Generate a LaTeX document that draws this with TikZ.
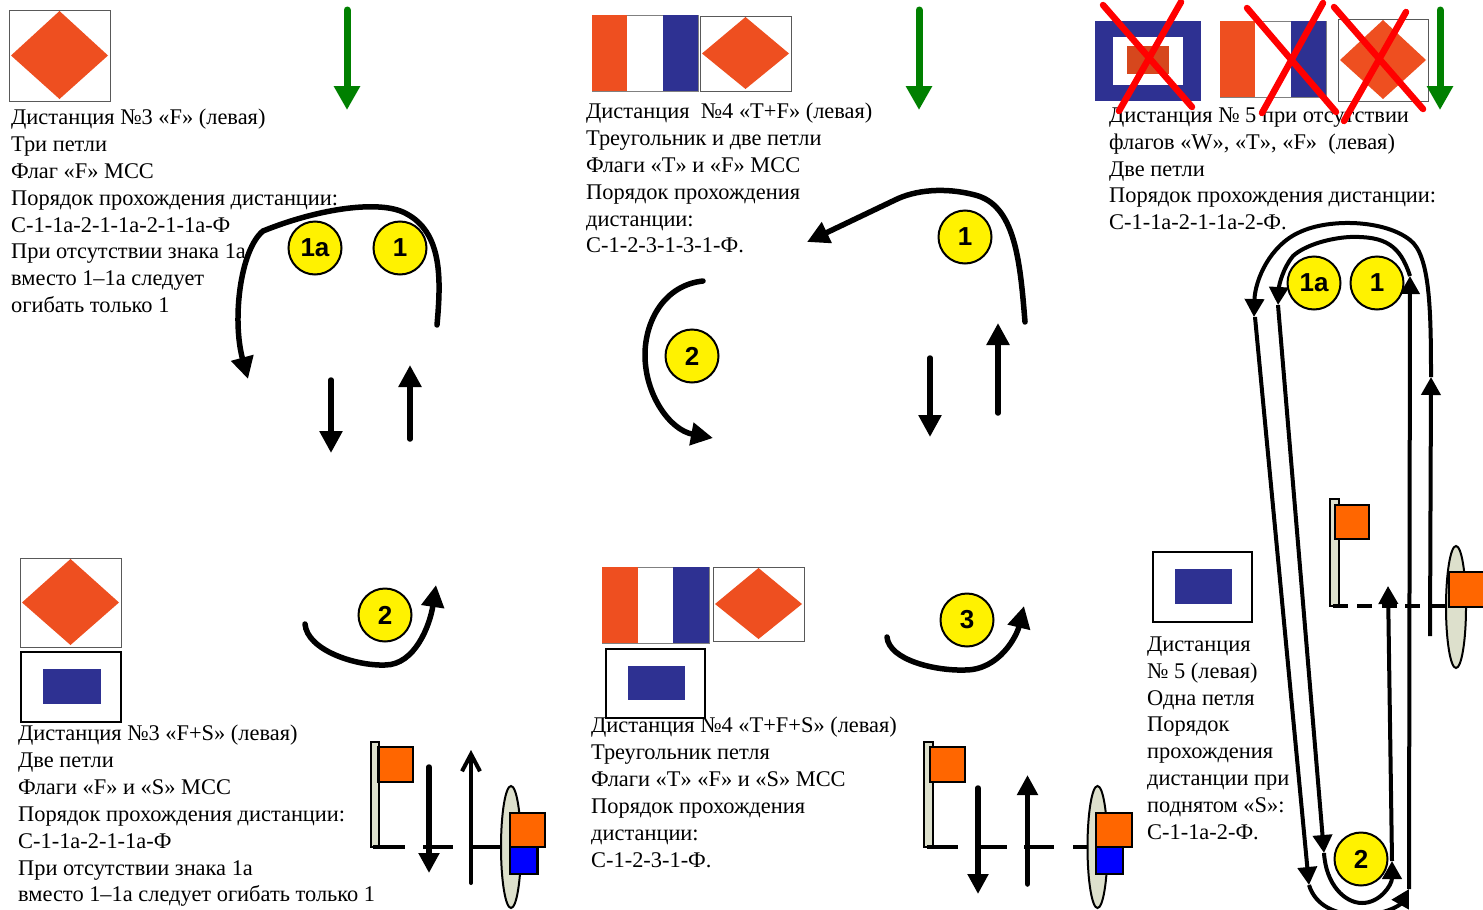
\documentclass[tikz,border=0pt]{standalone}
\usepackage{fontspec}
\setmainfont{Liberation Serif}
\setsansfont{Liberation Sans}
\usetikzlibrary{arrows.meta}
\definecolor{flagred}{HTML}{EE4F20}
\definecolor{flagblue}{HTML}{2E3192}
\definecolor{flagorange}{HTML}{FF6600}
\definecolor{polegrey}{HTML}{DDE0CC}
\definecolor{arrowgreen}{HTML}{008000}
\tikzset{
  info/.style={anchor=north west, inner sep=0pt, align=left, font=\fontsize{22.4}{26.85}\selectfont},
  buoy/.style={circle, draw, line width=2pt, fill=yellow, minimum size=53pt, inner sep=0pt, font=\fontsize{26}{26}\selectfont\sffamily\bfseries},
  windarrow/.style={arrowgreen, line width=7pt, line cap=round, -{Triangle[length=24pt,width=25pt]}},
  course/.style={line width=5.5pt, line cap=round, -{Triangle[length=22pt,width=22pt]}},
  longcourse/.style={line width=4pt, -{Triangle[length=18pt,width=19pt]}},
  rope/.style={line width=3.5pt},
  cross/.style={red, line width=6.5pt, line cap=round},
  flagbox/.style={draw=black!65, line width=1pt, fill=white},
  signbox/.style={draw=black, line width=1.5pt, fill=white},
  markerbox/.style={draw=black, line width=2.5pt},
  pole/.style={draw=black, line width=2pt, fill=polegrey},
}
% flags: left, top, right, bottom
\newcommand{\flagF}[4]{
  \draw[flagbox] (#1,#2) rectangle (#3,#4);
  \fill[flagred] ({#1+2},{(#2+#4)/2}) -- ({(#1+#3)/2},{#2+1}) -- ({#3-2},{(#2+#4)/2}) -- ({(#1+#3)/2},{#4-2}) -- cycle;
}
\newcommand{\flagT}[4]{
  \draw[draw=black!50, line width=1pt, fill=white] (#1,#2) rectangle (#3,#4);
  \fill[flagblue] ({#1+2*(#3-#1)/3},#2) rectangle (#3,#4);
  \fill[flagred] (#1,#2) rectangle ({#1+(#3-#1)/3},#4);
}
\newcommand{\flagS}[4]{
  \draw[signbox] (#1,#2) rectangle (#3,#4);
  \fill[flagblue] ({#1+22},{#2+17}) rectangle ({#3-20},{#4-18});
}
\begin{document}
\begin{tikzpicture}[x=1pt, y=-1pt]
  \clip (0,0) rectangle (1483,910);
  % texts go under the drawing
  \node [info] (textA) at (11,109) {Дистанция №3 «F» (левая)\\Три петли\\Флаг «F» МСС\\Порядок прохождения дистанции:\\С-1-1а-2-1-1а-2-1-1а-Ф\\При отсутствии знака 1а\\вместо 1–1а следует\\огибать только 1};
  \node [info] (textB) at (586,103) {Дистанция\ \ №4 «T+F» (левая)\\Треугольник и две петли\\Флаги «T» и «F» МСС\\Порядок прохождения\\дистанции:\\С-1-2-3-1-3-1-Ф.};
  \node [info] (textC) at (1109,107.5) {Дистанция № 5 при отсутствии\\флагов «W», «T», «F»\ \ (левая)\\Две петли\\Порядок прохождения дистанции:\\С-1-1а-2-1-1а-2-Ф.};
  \node [info] (textD) at (18,725) {Дистанция №3 «F+S» (левая)\\Две петли\\Флаги «F» и «S» МСС\\Порядок прохождения дистанции:\\С-1-1а-2-1-1а-Ф\\При отсутствии знака 1а\\вместо 1–1а следует огибать только 1};
  \node [info] (textE) at (591,717) {Дистанция №4 «T+F+S» (левая)\\Треугольник петля\\Флаги «T» «F» и «S» МСС\\Порядок прохождения\\дистанции:\\С-1-2-3-1-Ф.};
  \node [info] (textF) at (1147,636.5) {Дистанция\\№ 5 (левая)\\Одна петля\\Порядок\\прохождения\\дистанции при\\поднятом «S»:\\С-1-1а-2-Ф.};

  % flags
  \flagF{9}{10}{110}{101}
  \flagT{592}{15}{698}{91}
  \flagF{700}{16}{791}{91}
  \fill[flagblue] (1095,21) rectangle (1201,101);
  \fill[white] (1113,37) rectangle (1183,85);
  \fill[flagred!90!black] (1127,46) rectangle (1169,74);
  \flagT{1220}{21}{1326}{97}
  \flagF{1338}{19}{1428}{101}
  \flagF{20}{558}{121}{647}
  \flagS{21}{652}{121}{722}
  \flagT{602}{567}{709}{643}
  \flagF{713}{567}{804}{641}
  \flagS{606}{649}{705}{718}
  \flagS{1153}{552}{1252}{622}

  % crossed out flags
  \draw[cross] (1103,5) -- (1192,107);
  \draw[cross] (1181,2) -- (1119,111);
  \draw[cross] (1247,8) -- (1336,112);
  \draw[cross] (1323,3) -- (1262,113);
  \draw[cross] (1334,7) -- (1423,109);
  \draw[cross] (1406,12) -- (1344,121);

  % wind
  \draw[windarrow] (347,10) -- (347,110);
  \draw[windarrow] (919,10) -- (919,110);
  \draw[windarrow] (1440,10) -- (1440,110);

  % distance 3 F
  \node [buoy] (oneAa) at (315,248) {1a};
  \node [buoy] (oneAb) at (400,248) {1};
  \draw[course] (437,325) .. controls (441,280) and (443,232) .. (405,213) .. controls (380,200) and (320,208) .. (263,231) .. controls (240,250) and (232,320) .. (248,379);
  \draw[course] (331,380) -- (331,453);
  \draw[course] (410,439) -- (410,365);

  % distance 4 T+F
  \node [buoy] (oneB) at (965,237) {1};
  \node [buoy] (twoB) at (692,356) {2};
  \draw[course] (1025,322) .. controls (1020,260) and (1015,205) .. (975,195) .. controls (945,187) and (915,190) .. (895,200) -- (807,242);
  \draw[course] (703,281) .. controls (665,285) and (645,320) .. (645,355) .. controls (645,395) and (670,430) .. (713,438);
  \draw[course] (930,358) -- (930,437);
  \draw[course] (998,413) -- (998,323);

  % distance 3 F+S
  \node [buoy] (twoD) at (385,615) {2};
  \draw[course] (305,624) .. controls (307,650) and (355,666) .. (385,665) .. controls (415,665) and (430,625) .. (436,585);
  \draw[pole] (371,742) rectangle (379,847);
  \draw[markerbox, fill=flagorange] (378.5,747) rectangle (413,782);
  \draw[rope] (373,847) -- (405,847);
  \draw[rope] (423,847) -- (453,847);
  \draw[rope] (471,847) -- (500,847);
  \draw[course, -{Triangle[length=20pt,width=20pt]}] (429,767) -- (429,873);
  \draw[line width=4pt, line cap=round, -{Straight Barb[length=17pt,width=18pt]}] (471,883) -- (471,750);
  \draw[pole] (511,847) ellipse [x radius=10, y radius=61];
  \draw[markerbox, fill=blue] (510,847) rectangle (537.5,874);
  \draw[markerbox, fill=flagorange] (510,813) rectangle (545,847);

  % distance 4 T+F+S
  \node [buoy] (threeE) at (967,620) {3};
  \draw[course] (887,637) .. controls (889,660) and (935,671) .. (965,670) .. controls (1000,670) and (1017,635) .. (1024,606);
  \draw[pole] (924,742) rectangle (933,847);
  \draw[markerbox, fill=flagorange] (930,747) rectangle (965,782);
  \draw[rope] (927,847) -- (958,847);
  \draw[rope] (980,847) -- (1007,847);
  \draw[rope] (1024,847) -- (1054,847);
  \draw[rope] (1073,847) -- (1088,847);
  \draw[course, -{Triangle[length=20pt,width=20pt]}] (978,788) -- (978,894);
  \draw[course, -{Triangle[length=20pt,width=20pt]}] (1027.5,884) -- (1027.5,775);
  \draw[pole] (1097.5,847) ellipse [x radius=10, y radius=61];
  \draw[markerbox, fill=blue] (1096,847) rectangle (1123,874);
  \draw[markerbox, fill=flagorange] (1096,813) rectangle (1132,847);

  % distance 5
  \node [buoy] (oneFa) at (1314,283) {1a};
  \node [buoy] (oneFb) at (1377,283) {1};
  \node [buoy] (twoF) at (1361,859) {2};
  \draw[pole] (1330,499) rectangle (1339,606);
  \draw[markerbox, fill=flagorange] (1335,505) rectangle (1369,539);
  \draw[rope] (1333,606) -- (1348,606);
  \draw[rope] (1357,606) -- (1372,606);
  \draw[rope] (1382,606) -- (1397,606);
  \draw[rope] (1405,606) -- (1420,606);
  \draw[rope] (1430,606) -- (1445,606);
  \draw[pole] (1456,607) ellipse [x radius=10, y radius=61];
  \draw[markerbox, fill=flagorange] (1449,572) rectangle (1495,607);
  \draw[longcourse] (1430,636) -- (1431,377);
  \draw[longcourse] (1431,377) .. controls (1431,310) and (1430,255) .. (1410,240) .. controls (1385,220) and (1330,218) .. (1300,232) .. controls (1270,245) and (1255,280) .. (1254,317);
  \draw[longcourse] (1255,317) -- (1309,885);
  \draw[longcourse] (1309,885) .. controls (1315,905) and (1335,915) .. (1360,915) .. controls (1385,915) and (1400,905) .. (1409,889);
  \draw[longcourse] (1409,889) -- (1410,276);
  \draw[longcourse] (1410,276) .. controls (1400,245) and (1385,236) .. (1350,237) .. controls (1330,238) and (1305,245) .. (1293,256) .. controls (1283,268) and (1279,285) .. (1278,305);
  \draw[longcourse] (1278,305) -- (1324,853);
  \draw[longcourse] (1324,853) .. controls (1326,885) and (1345,903) .. (1362,903) .. controls (1380,903) and (1392,885) .. (1392,861);
  \draw[longcourse] (1392,861) -- (1388,586);
\end{tikzpicture}
\end{document}
